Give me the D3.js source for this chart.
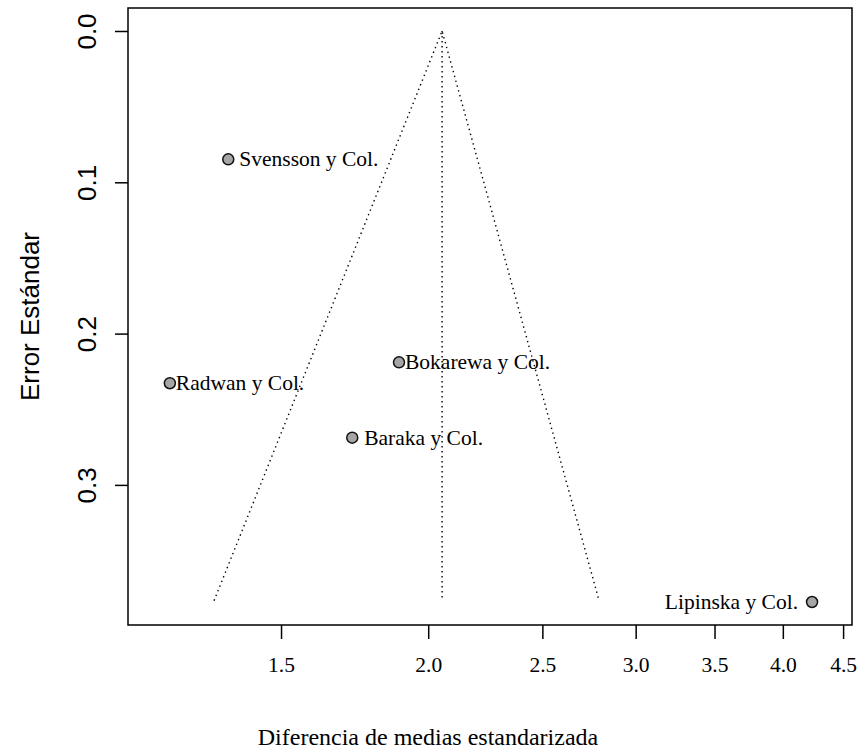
<!DOCTYPE html>
<html>
<head>
<meta charset="utf-8">
<script src="https://cdn.jsdelivr.net/npm/d3@7"></script>
<style>
  html, body { margin: 0; padding: 0; background: #fff; }
  svg { display: block; }
</style>
</head>
<body>
<svg id="chart" width="862" height="751"></svg>
<script>
// ---- data ----
const studies = ["Svensson y Col.", "Radwan y Col.", "Bokarewa y Col.", "Baraka y Col.", "Lipinska y Col."];
const effect = [1.353, 1.207, 1.889, 1.724, 4.235];
const stdErr = [0.0848, 0.2328, 0.2190, 0.2688, 0.3774];
const labelSide = ["right", "right", "right", "right", "left"];
const funnelX = [1.316, 2.055, 2.793];
const funnelSE = [0.3765, 0, 0.3765];
const centerX = [2.055, 2.055];
const centerSE = [0, 0.3765];
const xTicks = [1.5, 2.0, 2.5, 3.0, 3.5, 4.0, 4.5];
const yTicks = [0.0, 0.1, 0.2, 0.3];
const xTitle = "Diferencia de medias estandarizada";
const yTitle = "Error Estándar";

// ---- layout ----
const L = 128, R = 852, T = 8, B = 625;
const svg = d3.select("#chart");
const x = d3.scaleLog().domain([1.1122, 4.579]).range([L, R]);
const y = d3.scaleLinear().domain([-0.0152, 0.3926]).range([T, B]);

const serif = "'Liberation Serif', 'Times New Roman', serif";
const sans = "'Liberation Sans', Arial, Helvetica, sans-serif";

// funnel
const line = d3.line().x(d => x(d[0])).y(d => y(d[1]));
[[funnelX, funnelSE], [centerX, centerSE]].forEach(([xs, ys]) => {
  svg.append("path")
    .attr("d", line(xs.map((v, i) => [v, ys[i]])))
    .attr("fill", "none").attr("stroke", "#000").attr("stroke-width", 1.4)
    .attr("stroke-dasharray", "1.4,3.6");
});

// box
svg.append("rect").attr("x", L).attr("y", T).attr("width", R - L).attr("height", B - T)
  .attr("fill", "none").attr("stroke", "#000").attr("stroke-width", 1.5);

// x axis
const xAxis = d3.axisBottom(x).tickValues(xTicks).tickFormat(d3.format(".1f"))
  .tickSizeOuter(0).tickSizeInner(14).tickPadding(18);
const gx = svg.append("g").attr("transform", `translate(0,${B})`).call(xAxis);
gx.select(".domain").remove();
gx.selectAll(".tick line").attr("stroke", "#000").attr("stroke-width", 1.5);
gx.selectAll(".tick text").attr("font-family", serif).attr("font-size", 21.5).attr("fill", "#000");

// y axis
const yAxis = d3.axisLeft(y).tickValues(yTicks).tickFormat(d3.format(".1f"))
  .tickSizeOuter(0).tickSizeInner(13);
const gy = svg.append("g").attr("transform", `translate(${L},0)`).call(yAxis);
gy.select(".domain").remove();
gy.selectAll(".tick line").attr("stroke", "#000").attr("stroke-width", 1.5);
gy.selectAll(".tick text")
  .attr("x", null).attr("dy", null)
  .attr("transform", "translate(-41,0) rotate(-90)")
  .attr("text-anchor", "middle").attr("dy", "0.35em")
  .attr("font-family", sans).attr("font-size", 26).attr("fill", "#000");

// titles
svg.append("text").attr("x", 428).attr("y", 745).attr("text-anchor", "middle")
  .attr("font-family", serif).attr("font-size", 24).text(xTitle);
svg.append("text").attr("transform", `translate(30,${(T + B) / 2}) rotate(-90)`)
  .attr("text-anchor", "middle").attr("dy", "0.35em")
  .attr("font-family", sans).attr("font-size", 26).text(yTitle);

// points
const pts = studies.map((s, i) => ({ s, e: effect[i], se: stdErr[i], side: labelSide[i] }));
svg.append("g").selectAll("circle").data(pts).join("circle")
  .attr("cx", d => x(d.e)).attr("cy", d => y(d.se)).attr("r", 5.5)
  .attr("fill", "#a6a6a6").attr("stroke", "#111").attr("stroke-width", 1.5);

const gaps = [11, 6, 6, 12, -14];
svg.append("g").selectAll("text").data(pts).join("text")
  .attr("x", (d, i) => x(d.e) + gaps[i]).attr("y", d => y(d.se)).attr("dy", "0.33em")
  .attr("text-anchor", d => d.side === "left" ? "end" : "start")
  .attr("font-family", serif).attr("font-size", 21.5).attr("fill", "#000")
  .text(d => d.s);
</script>
</body>
</html>
